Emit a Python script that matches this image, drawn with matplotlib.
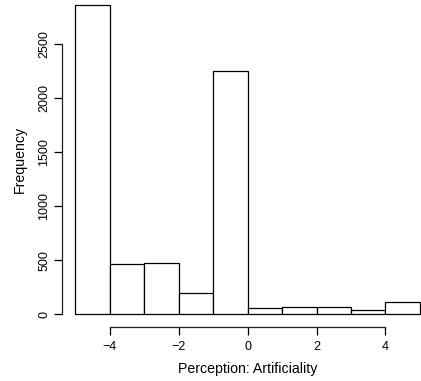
import numpy as np
import matplotlib
matplotlib.use("Agg")
import matplotlib.pyplot as plt

plt.rcParams['font.family'] = ['Liberation Sans', 'DejaVu Sans']

# histogram of perception scores, unit-width bins
edges = [-5, -4, -3, -2, -1, 0, 1, 2, 3, 4, 5]
counts = [2860, 468, 472, 196, 2256, 56, 65, 65, 38, 110]
xticks = [-4, -2, 0, 2, 4]
yticks = [0, 500, 1000, 1500, 2000, 2500]

fig = plt.figure(figsize=(4.21, 3.81), dpi=100)
ax = fig.add_axes([0.1461, 0.1425, 0.884, 0.8756])

ax.bar(edges[:-1], counts, width=1, align='edge', color='white',
       edgecolor='black', linewidth=0.9)

# R-style axis ranges (4% padding each side)
span_x = edges[-1] - edges[0]
ax.set_xlim(edges[0] - 0.04 * span_x, edges[-1] + 0.04 * span_x)
ymax = max(counts)
ax.set_ylim(-0.04 * ymax, ymax * 1.04)

for s in ['top', 'right']:
    ax.spines[s].set_visible(False)
ax.spines['left'].set_bounds(yticks[0], yticks[-1])
ax.spines['bottom'].set_bounds(xticks[0], xticks[-1])
for s in ['left', 'bottom']:
    ax.spines[s].set_linewidth(0.9)
    ax.spines[s].set_color('#222222')

ax.set_xticks(xticks)
ax.set_xticklabels([str(v).replace('-', '\u2212') for v in xticks])
ax.set_yticks(yticks)
ax.set_yticklabels([str(v) for v in yticks], rotation=90, va='center')
ax.tick_params(length=6, width=0.9, labelsize=9)
ax.tick_params(axis='x', pad=4)
ax.tick_params(axis='y', pad=2)

ax.set_xlabel('Perception: Artificiality', fontsize=10.2, labelpad=7)
ax.set_ylabel('Frequency', fontsize=10.2, labelpad=8)

fig.savefig('out.png', dpi=100)
